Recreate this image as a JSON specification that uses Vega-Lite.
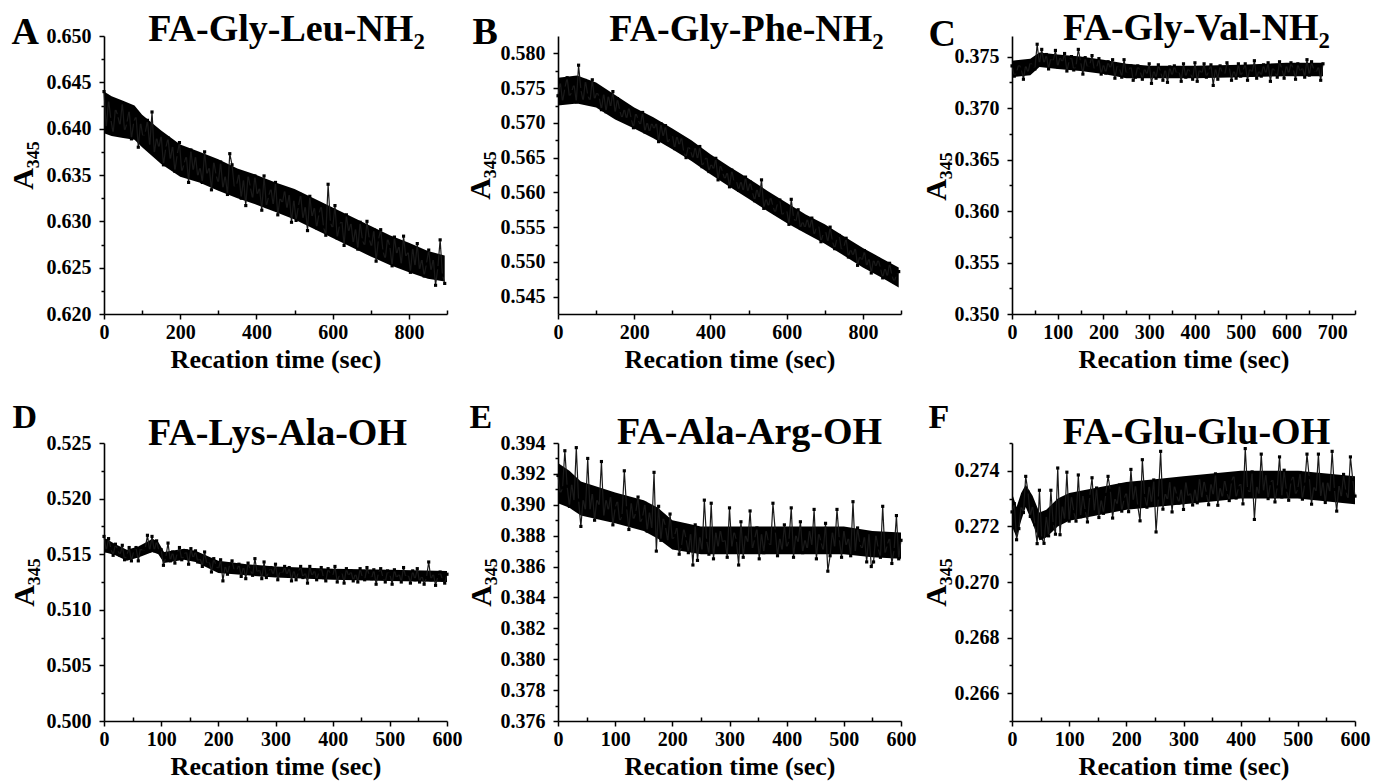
{
"$schema":"https://vega.github.io/schema/vega-lite/v6.json",
"background":"white",
"padding":{"left":8,"top":9,"right":5,"bottom":5},
"bounds":"flush",
"columns":3,
"spacing":{"row":129,"column":111},
"config":{
"font":"Liberation Serif",
"view":{"stroke":null},
"axis":{"grid":false,"domainColor":"black","domainWidth":1.6,"tickColor":"black","tickWidth":1.5,"tickSize":5,"labelFont":"Liberation Serif","labelFontSize":20,"labelFontWeight":"bold","labelColor":"black","labelPadding":3,"labelFlush":false,"labelOverlap":false,"titleFont":"Liberation Serif","titleFontWeight":"bold","titleColor":"black"},
"axisY":{"labelPadding":8},
"line":{"color":"#1a1a1a","strokeWidth":1.2,"strokeJoin":"round"},
"area":{"color":"#000000","opacity":1},
"point":{"filled":true,"color":"black","size":10,"shape":"square","opacity":1}
},
"datasets":{
"Ab":[{"t":0,"lo":0.6395,"hi":0.6440},{"t":20,"lo":0.6392,"hi":0.6435},{"t":50,"lo":0.6390,"hi":0.6430},{"t":80,"lo":0.6388,"hi":0.6425},{"t":100,"lo":0.6380,"hi":0.6415},{"t":150,"lo":0.6362,"hi":0.6398},{"t":200,"lo":0.6348,"hi":0.6383},{"t":250,"lo":0.6342,"hi":0.6375},{"t":300,"lo":0.6333,"hi":0.6367},{"t":350,"lo":0.6325,"hi":0.6357},{"t":400,"lo":0.6318,"hi":0.6350},{"t":450,"lo":0.6310,"hi":0.6342},{"t":500,"lo":0.6302,"hi":0.6335},{"t":550,"lo":0.6292,"hi":0.6325},{"t":600,"lo":0.6282,"hi":0.6315},{"t":650,"lo":0.6272,"hi":0.6305},{"t":700,"lo":0.6262,"hi":0.6295},{"t":750,"lo":0.6253,"hi":0.6285},{"t":800,"lo":0.6245,"hi":0.6277},{"t":850,"lo":0.6238,"hi":0.6268},{"t":894,"lo":0.6235,"hi":0.6263}],
"Bb":[{"t":0,"lo":0.5725,"hi":0.5765},{"t":50,"lo":0.5728,"hi":0.5768},{"t":100,"lo":0.5722,"hi":0.5758},{"t":150,"lo":0.5705,"hi":0.5740},{"t":200,"lo":0.5692,"hi":0.5722},{"t":250,"lo":0.5678,"hi":0.5708},{"t":300,"lo":0.5662,"hi":0.5692},{"t":350,"lo":0.5645,"hi":0.5675},{"t":400,"lo":0.5626,"hi":0.5655},{"t":450,"lo":0.5608,"hi":0.5637},{"t":500,"lo":0.5591,"hi":0.5620},{"t":550,"lo":0.5573,"hi":0.5602},{"t":600,"lo":0.5556,"hi":0.5585},{"t":650,"lo":0.5541,"hi":0.5568},{"t":700,"lo":0.5526,"hi":0.5554},{"t":750,"lo":0.5509,"hi":0.5537},{"t":800,"lo":0.5492,"hi":0.5520},{"t":850,"lo":0.5477,"hi":0.5505},{"t":894,"lo":0.5463,"hi":0.5492}],
"Cb":[{"t":0,"lo":0.3730,"hi":0.3746},{"t":40,"lo":0.3732,"hi":0.3748},{"t":60,"lo":0.3740,"hi":0.3754},{"t":100,"lo":0.3738,"hi":0.3752},{"t":150,"lo":0.3736,"hi":0.3750},{"t":200,"lo":0.3733,"hi":0.3747},{"t":250,"lo":0.3729,"hi":0.3743},{"t":300,"lo":0.3729,"hi":0.3741},{"t":400,"lo":0.3729,"hi":0.3741},{"t":500,"lo":0.3730,"hi":0.3742},{"t":600,"lo":0.3731,"hi":0.3744},{"t":680,"lo":0.3731,"hi":0.3744}],
"Db":[{"t":0,"lo":0.5152,"hi":0.5165},{"t":20,"lo":0.5149,"hi":0.5159},{"t":40,"lo":0.5144,"hi":0.5154},{"t":60,"lo":0.5147,"hi":0.5157},{"t":85,"lo":0.5152,"hi":0.5164},{"t":95,"lo":0.5150,"hi":0.5161},{"t":105,"lo":0.5142,"hi":0.5152},{"t":140,"lo":0.5145,"hi":0.5155},{"t":160,"lo":0.5143,"hi":0.5153},{"t":200,"lo":0.5133,"hi":0.5144},{"t":250,"lo":0.5131,"hi":0.5141},{"t":300,"lo":0.5129,"hi":0.5139},{"t":400,"lo":0.5127,"hi":0.5137},{"t":500,"lo":0.5126,"hi":0.5136},{"t":600,"lo":0.5125,"hi":0.5135}],
"Eb":[{"t":0,"lo":0.3901,"hi":0.3927},{"t":20,"lo":0.3898,"hi":0.3922},{"t":40,"lo":0.3893,"hi":0.3915},{"t":100,"lo":0.3888,"hi":0.3908},{"t":150,"lo":0.3883,"hi":0.3903},{"t":175,"lo":0.3878,"hi":0.3898},{"t":200,"lo":0.3871,"hi":0.3890},{"t":250,"lo":0.3868,"hi":0.3886},{"t":300,"lo":0.3868,"hi":0.3886},{"t":400,"lo":0.3868,"hi":0.3886},{"t":500,"lo":0.3868,"hi":0.3886},{"t":550,"lo":0.3866,"hi":0.3883},{"t":600,"lo":0.3865,"hi":0.3882}],
"Fb":[{"t":0,"lo":0.2720,"hi":0.2732},{"t":8,"lo":0.2716,"hi":0.2727},{"t":16,"lo":0.2722,"hi":0.2732},{"t":24,"lo":0.2727,"hi":0.2735},{"t":36,"lo":0.2721,"hi":0.2731},{"t":48,"lo":0.2715,"hi":0.2725},{"t":60,"lo":0.2716,"hi":0.2726},{"t":80,"lo":0.2720,"hi":0.2730},{"t":100,"lo":0.2722,"hi":0.2732},{"t":150,"lo":0.2724,"hi":0.2734},{"t":200,"lo":0.2726,"hi":0.2736},{"t":250,"lo":0.2727,"hi":0.2737},{"t":300,"lo":0.2728,"hi":0.2738},{"t":350,"lo":0.2729,"hi":0.2739},{"t":400,"lo":0.2730,"hi":0.2740},{"t":500,"lo":0.2730,"hi":0.2740},{"t":600,"lo":0.2728,"hi":0.2738}],
"A":[{"t":0,"v":0.6440},{"t":6,"v":0.6401},{"t":12,"v":0.6431},{"t":18,"v":0.6410},{"t":24,"v":0.6395},{"t":30,"v":0.6422},{"t":36,"v":0.6414},{"t":42,"v":0.6403},{"t":48,"v":0.6428},{"t":54,"v":0.6397},{"t":60,"v":0.6406},{"t":66,"v":0.6420},{"t":72,"v":0.6389},{"t":78,"v":0.6407},{"t":84,"v":0.6414},{"t":90,"v":0.6380},{"t":96,"v":0.6407},{"t":102,"v":0.6391},{"t":108,"v":0.6395},{"t":114,"v":0.6409},{"t":120,"v":0.6381},{"t":126,"v":0.6418},{"t":132,"v":0.6373},{"t":138,"v":0.6391},{"t":144,"v":0.6379},{"t":150,"v":0.6393},{"t":156,"v":0.6361},{"t":162,"v":0.6379},{"t":168,"v":0.6390},{"t":174,"v":0.6366},{"t":180,"v":0.6382},{"t":186,"v":0.6354},{"t":192,"v":0.6372},{"t":198,"v":0.6385},{"t":204,"v":0.6353},{"t":210,"v":0.6362},{"t":216,"v":0.6371},{"t":222,"v":0.6342},{"t":228,"v":0.6377},{"t":234,"v":0.6354},{"t":240,"v":0.6371},{"t":246,"v":0.6348},{"t":252,"v":0.6359},{"t":258,"v":0.6342},{"t":264,"v":0.6375},{"t":270,"v":0.6350},{"t":276,"v":0.6359},{"t":282,"v":0.6334},{"t":288,"v":0.6365},{"t":294,"v":0.6350},{"t":300,"v":0.6341},{"t":306,"v":0.6364},{"t":312,"v":0.6335},{"t":318,"v":0.6350},{"t":324,"v":0.6329},{"t":330,"v":0.6373},{"t":336,"v":0.6361},{"t":342,"v":0.6336},{"t":348,"v":0.6339},{"t":354,"v":0.6352},{"t":360,"v":0.6325},{"t":366,"v":0.6346},{"t":372,"v":0.6317},{"t":378,"v":0.6350},{"t":384,"v":0.6337},{"t":390,"v":0.6324},{"t":396,"v":0.6349},{"t":402,"v":0.6328},{"t":408,"v":0.6337},{"t":414,"v":0.6312},{"t":420,"v":0.6349},{"t":426,"v":0.6316},{"t":432,"v":0.6327},{"t":438,"v":0.6336},{"t":444,"v":0.6317},{"t":450,"v":0.6342},{"t":456,"v":0.6307},{"t":462,"v":0.6326},{"t":468,"v":0.6319},{"t":474,"v":0.6334},{"t":480,"v":0.6313},{"t":486,"v":0.6330},{"t":492,"v":0.6299},{"t":498,"v":0.6324},{"t":504,"v":0.6301},{"t":510,"v":0.6316},{"t":516,"v":0.6329},{"t":522,"v":0.6302},{"t":528,"v":0.6317},{"t":534,"v":0.6290},{"t":540,"v":0.6327},{"t":546,"v":0.6304},{"t":552,"v":0.6316},{"t":558,"v":0.6293},{"t":564,"v":0.6308},{"t":570,"v":0.6317},{"t":576,"v":0.6294},{"t":582,"v":0.6285},{"t":588,"v":0.6340},{"t":594,"v":0.6299},{"t":600,"v":0.6292},{"t":606,"v":0.6317},{"t":612,"v":0.6282},{"t":618,"v":0.6296},{"t":624,"v":0.6301},{"t":630,"v":0.6274},{"t":636,"v":0.6307},{"t":642,"v":0.6288},{"t":648,"v":0.6299},{"t":654,"v":0.6276},{"t":660,"v":0.6293},{"t":666,"v":0.6270},{"t":672,"v":0.6299},{"t":678,"v":0.6280},{"t":684,"v":0.6273},{"t":690,"v":0.6300},{"t":696,"v":0.6281},{"t":702,"v":0.6272},{"t":708,"v":0.6291},{"t":714,"v":0.6257},{"t":720,"v":0.6280},{"t":726,"v":0.6291},{"t":732,"v":0.6268},{"t":738,"v":0.6259},{"t":744,"v":0.6282},{"t":750,"v":0.6273},{"t":756,"v":0.6252},{"t":762,"v":0.6283},{"t":768,"v":0.6264},{"t":774,"v":0.6274},{"t":780,"v":0.6253},{"t":786,"v":0.6284},{"t":792,"v":0.6261},{"t":798,"v":0.6268},{"t":804,"v":0.6245},{"t":810,"v":0.6272},{"t":816,"v":0.6251},{"t":822,"v":0.6276},{"t":828,"v":0.6247},{"t":834,"v":0.6260},{"t":840,"v":0.6241},{"t":846,"v":0.6254},{"t":852,"v":0.6269},{"t":858,"v":0.6246},{"t":864,"v":0.6260},{"t":870,"v":0.6231},{"t":876,"v":0.6250},{"t":882,"v":0.6280},{"t":888,"v":0.6242},{"t":894,"v":0.6233}],
"B":[{"t":0,"v":0.5739},{"t":6,"v":0.5759},{"t":12,"v":0.5730},{"t":18,"v":0.5750},{"t":24,"v":0.5765},{"t":30,"v":0.5737},{"t":36,"v":0.5745},{"t":42,"v":0.5756},{"t":48,"v":0.5730},{"t":54,"v":0.5783},{"t":60,"v":0.5748},{"t":66,"v":0.5731},{"t":72,"v":0.5761},{"t":78,"v":0.5740},{"t":84,"v":0.5731},{"t":90,"v":0.5762},{"t":96,"v":0.5733},{"t":102,"v":0.5745},{"t":108,"v":0.5737},{"t":114,"v":0.5719},{"t":120,"v":0.5743},{"t":126,"v":0.5716},{"t":132,"v":0.5740},{"t":138,"v":0.5722},{"t":144,"v":0.5745},{"t":150,"v":0.5714},{"t":156,"v":0.5735},{"t":162,"v":0.5718},{"t":168,"v":0.5706},{"t":174,"v":0.5721},{"t":180,"v":0.5705},{"t":186,"v":0.5723},{"t":192,"v":0.5706},{"t":198,"v":0.5693},{"t":204,"v":0.5715},{"t":210,"v":0.5705},{"t":216,"v":0.5696},{"t":222,"v":0.5715},{"t":228,"v":0.5687},{"t":234,"v":0.5702},{"t":240,"v":0.5686},{"t":246,"v":0.5701},{"t":252,"v":0.5690},{"t":258,"v":0.5701},{"t":264,"v":0.5673},{"t":270,"v":0.5699},{"t":276,"v":0.5679},{"t":282,"v":0.5696},{"t":288,"v":0.5670},{"t":294,"v":0.5679},{"t":300,"v":0.5683},{"t":306,"v":0.5663},{"t":312,"v":0.5682},{"t":318,"v":0.5667},{"t":324,"v":0.5680},{"t":330,"v":0.5658},{"t":336,"v":0.5650},{"t":342,"v":0.5667},{"t":348,"v":0.5660},{"t":354,"v":0.5648},{"t":360,"v":0.5666},{"t":366,"v":0.5647},{"t":372,"v":0.5666},{"t":378,"v":0.5637},{"t":384,"v":0.5645},{"t":390,"v":0.5652},{"t":396,"v":0.5630},{"t":402,"v":0.5642},{"t":408,"v":0.5632},{"t":414,"v":0.5649},{"t":420,"v":0.5618},{"t":426,"v":0.5640},{"t":432,"v":0.5629},{"t":438,"v":0.5618},{"t":444,"v":0.5630},{"t":450,"v":0.5608},{"t":456,"v":0.5632},{"t":462,"v":0.5615},{"t":468,"v":0.5617},{"t":474,"v":0.5603},{"t":480,"v":0.5617},{"t":486,"v":0.5601},{"t":492,"v":0.5622},{"t":498,"v":0.5600},{"t":504,"v":0.5615},{"t":510,"v":0.5601},{"t":516,"v":0.5588},{"t":522,"v":0.5606},{"t":528,"v":0.5591},{"t":534,"v":0.5618},{"t":540,"v":0.5577},{"t":546,"v":0.5592},{"t":552,"v":0.5579},{"t":558,"v":0.5594},{"t":564,"v":0.5580},{"t":570,"v":0.5570},{"t":576,"v":0.5585},{"t":582,"v":0.5589},{"t":588,"v":0.5566},{"t":594,"v":0.5573},{"t":600,"v":0.5575},{"t":606,"v":0.5554},{"t":612,"v":0.5590},{"t":618,"v":0.5564},{"t":624,"v":0.5557},{"t":630,"v":0.5575},{"t":636,"v":0.5548},{"t":642,"v":0.5559},{"t":648,"v":0.5548},{"t":654,"v":0.5563},{"t":660,"v":0.5547},{"t":666,"v":0.5563},{"t":672,"v":0.5538},{"t":678,"v":0.5550},{"t":684,"v":0.5553},{"t":690,"v":0.5529},{"t":696,"v":0.5541},{"t":702,"v":0.5545},{"t":708,"v":0.5528},{"t":714,"v":0.5550},{"t":720,"v":0.5530},{"t":726,"v":0.5519},{"t":732,"v":0.5534},{"t":738,"v":0.5538},{"t":744,"v":0.5516},{"t":750,"v":0.5521},{"t":756,"v":0.5534},{"t":762,"v":0.5507},{"t":768,"v":0.5519},{"t":774,"v":0.5508},{"t":780,"v":0.5521},{"t":786,"v":0.5495},{"t":792,"v":0.5509},{"t":798,"v":0.5501},{"t":804,"v":0.5516},{"t":810,"v":0.5493},{"t":816,"v":0.5506},{"t":822,"v":0.5484},{"t":828,"v":0.5504},{"t":834,"v":0.5492},{"t":840,"v":0.5504},{"t":846,"v":0.5491},{"t":852,"v":0.5477},{"t":858,"v":0.5492},{"t":864,"v":0.5478},{"t":870,"v":0.5498},{"t":876,"v":0.5481},{"t":882,"v":0.5471},{"t":888,"v":0.5481},{"t":894,"v":0.5486}],
"C":[{"t":0,"v":0.3741},{"t":5,"v":0.3731},{"t":10,"v":0.3735},{"t":15,"v":0.3743},{"t":20,"v":0.3738},{"t":25,"v":0.3728},{"t":30,"v":0.3742},{"t":35,"v":0.3734},{"t":40,"v":0.3745},{"t":45,"v":0.3741},{"t":50,"v":0.3738},{"t":55,"v":0.3762},{"t":60,"v":0.3743},{"t":65,"v":0.3757},{"t":70,"v":0.3743},{"t":75,"v":0.3752},{"t":80,"v":0.3738},{"t":85,"v":0.3749},{"t":90,"v":0.3745},{"t":95,"v":0.3756},{"t":100,"v":0.3740},{"t":105,"v":0.3750},{"t":110,"v":0.3744},{"t":115,"v":0.3753},{"t":120,"v":0.3736},{"t":125,"v":0.3746},{"t":130,"v":0.3750},{"t":135,"v":0.3737},{"t":140,"v":0.3741},{"t":145,"v":0.3757},{"t":150,"v":0.3745},{"t":155,"v":0.3733},{"t":160,"v":0.3749},{"t":165,"v":0.3739},{"t":170,"v":0.3742},{"t":175,"v":0.3751},{"t":180,"v":0.3737},{"t":185,"v":0.3739},{"t":190,"v":0.3748},{"t":195,"v":0.3733},{"t":200,"v":0.3743},{"t":205,"v":0.3734},{"t":210,"v":0.3745},{"t":215,"v":0.3738},{"t":220,"v":0.3747},{"t":225,"v":0.3729},{"t":230,"v":0.3742},{"t":235,"v":0.3739},{"t":240,"v":0.3730},{"t":245,"v":0.3747},{"t":250,"v":0.3733},{"t":255,"v":0.3736},{"t":260,"v":0.3741},{"t":265,"v":0.3727},{"t":270,"v":0.3730},{"t":275,"v":0.3741},{"t":280,"v":0.3736},{"t":285,"v":0.3728},{"t":290,"v":0.3739},{"t":295,"v":0.3732},{"t":300,"v":0.3743},{"t":305,"v":0.3724},{"t":310,"v":0.3737},{"t":315,"v":0.3729},{"t":320,"v":0.3742},{"t":325,"v":0.3735},{"t":330,"v":0.3727},{"t":335,"v":0.3738},{"t":340,"v":0.3725},{"t":345,"v":0.3740},{"t":350,"v":0.3731},{"t":355,"v":0.3741},{"t":360,"v":0.3733},{"t":365,"v":0.3736},{"t":370,"v":0.3726},{"t":375,"v":0.3743},{"t":380,"v":0.3730},{"t":385,"v":0.3739},{"t":390,"v":0.3734},{"t":395,"v":0.3728},{"t":400,"v":0.3744},{"t":405,"v":0.3726},{"t":410,"v":0.3738},{"t":415,"v":0.3733},{"t":420,"v":0.3743},{"t":425,"v":0.3730},{"t":430,"v":0.3736},{"t":435,"v":0.3742},{"t":440,"v":0.3722},{"t":445,"v":0.3739},{"t":450,"v":0.3728},{"t":455,"v":0.3741},{"t":460,"v":0.3734},{"t":465,"v":0.3732},{"t":470,"v":0.3744},{"t":475,"v":0.3740},{"t":480,"v":0.3727},{"t":485,"v":0.3737},{"t":490,"v":0.3729},{"t":495,"v":0.3743},{"t":500,"v":0.3731},{"t":505,"v":0.3736},{"t":510,"v":0.3743},{"t":515,"v":0.3727},{"t":520,"v":0.3739},{"t":525,"v":0.3734},{"t":530,"v":0.3746},{"t":535,"v":0.3729},{"t":540,"v":0.3737},{"t":545,"v":0.3731},{"t":550,"v":0.3742},{"t":555,"v":0.3733},{"t":560,"v":0.3744},{"t":565,"v":0.3726},{"t":570,"v":0.3740},{"t":575,"v":0.3735},{"t":580,"v":0.3730},{"t":585,"v":0.3745},{"t":590,"v":0.3738},{"t":595,"v":0.3729},{"t":600,"v":0.3742},{"t":605,"v":0.3733},{"t":610,"v":0.3744},{"t":615,"v":0.3738},{"t":620,"v":0.3728},{"t":625,"v":0.3743},{"t":630,"v":0.3735},{"t":635,"v":0.3740},{"t":640,"v":0.3730},{"t":645,"v":0.3747},{"t":650,"v":0.3732},{"t":655,"v":0.3745},{"t":660,"v":0.3737},{"t":665,"v":0.3734},{"t":670,"v":0.3741},{"t":675,"v":0.3727},{"t":680,"v":0.3743}],
"D":[{"t":0,"v":0.5166},{"t":4,"v":0.5153},{"t":8,"v":0.5164},{"t":12,"v":0.5155},{"t":16,"v":0.5149},{"t":20,"v":0.5159},{"t":24,"v":0.5154},{"t":28,"v":0.5149},{"t":32,"v":0.5158},{"t":36,"v":0.5145},{"t":40,"v":0.5149},{"t":44,"v":0.5156},{"t":48,"v":0.5144},{"t":52,"v":0.5153},{"t":56,"v":0.5156},{"t":60,"v":0.5144},{"t":64,"v":0.5156},{"t":68,"v":0.5152},{"t":72,"v":0.5155},{"t":76,"v":0.5167},{"t":80,"v":0.5153},{"t":84,"v":0.5166},{"t":88,"v":0.5153},{"t":92,"v":0.5162},{"t":96,"v":0.5153},{"t":100,"v":0.5154},{"t":104,"v":0.5140},{"t":108,"v":0.5147},{"t":112,"v":0.5160},{"t":116,"v":0.5144},{"t":120,"v":0.5152},{"t":124,"v":0.5142},{"t":128,"v":0.5151},{"t":132,"v":0.5156},{"t":136,"v":0.5145},{"t":140,"v":0.5149},{"t":144,"v":0.5153},{"t":148,"v":0.5141},{"t":152,"v":0.5155},{"t":156,"v":0.5146},{"t":160,"v":0.5153},{"t":164,"v":0.5143},{"t":168,"v":0.5147},{"t":172,"v":0.5139},{"t":176,"v":0.5152},{"t":180,"v":0.5141},{"t":184,"v":0.5144},{"t":188,"v":0.5134},{"t":192,"v":0.5146},{"t":196,"v":0.5140},{"t":200,"v":0.5136},{"t":204,"v":0.5145},{"t":208,"v":0.5126},{"t":212,"v":0.5140},{"t":216,"v":0.5132},{"t":220,"v":0.5141},{"t":224,"v":0.5144},{"t":228,"v":0.5135},{"t":232,"v":0.5135},{"t":236,"v":0.5141},{"t":240,"v":0.5130},{"t":244,"v":0.5139},{"t":248,"v":0.5128},{"t":252,"v":0.5142},{"t":256,"v":0.5136},{"t":260,"v":0.5131},{"t":264,"v":0.5146},{"t":268,"v":0.5133},{"t":272,"v":0.5137},{"t":276,"v":0.5128},{"t":280,"v":0.5143},{"t":284,"v":0.5129},{"t":288,"v":0.5134},{"t":292,"v":0.5138},{"t":296,"v":0.5131},{"t":300,"v":0.5141},{"t":304,"v":0.5127},{"t":308,"v":0.5135},{"t":312,"v":0.5132},{"t":316,"v":0.5139},{"t":320,"v":0.5131},{"t":324,"v":0.5138},{"t":328,"v":0.5126},{"t":332,"v":0.5136},{"t":336,"v":0.5127},{"t":340,"v":0.5134},{"t":344,"v":0.5139},{"t":348,"v":0.5129},{"t":352,"v":0.5134},{"t":356,"v":0.5124},{"t":360,"v":0.5139},{"t":364,"v":0.5130},{"t":368,"v":0.5136},{"t":372,"v":0.5127},{"t":376,"v":0.5134},{"t":380,"v":0.5138},{"t":384,"v":0.5129},{"t":388,"v":0.5126},{"t":392,"v":0.5137},{"t":396,"v":0.5132},{"t":400,"v":0.5130},{"t":404,"v":0.5139},{"t":408,"v":0.5125},{"t":412,"v":0.5132},{"t":416,"v":0.5134},{"t":420,"v":0.5124},{"t":424,"v":0.5137},{"t":428,"v":0.5130},{"t":432,"v":0.5135},{"t":436,"v":0.5126},{"t":440,"v":0.5133},{"t":444,"v":0.5125},{"t":448,"v":0.5137},{"t":452,"v":0.5129},{"t":456,"v":0.5127},{"t":460,"v":0.5138},{"t":464,"v":0.5131},{"t":468,"v":0.5128},{"t":472,"v":0.5136},{"t":476,"v":0.5123},{"t":480,"v":0.5133},{"t":484,"v":0.5137},{"t":488,"v":0.5129},{"t":492,"v":0.5125},{"t":496,"v":0.5135},{"t":500,"v":0.5132},{"t":504,"v":0.5123},{"t":508,"v":0.5136},{"t":512,"v":0.5128},{"t":516,"v":0.5133},{"t":520,"v":0.5125},{"t":524,"v":0.5138},{"t":528,"v":0.5129},{"t":532,"v":0.5132},{"t":536,"v":0.5124},{"t":540,"v":0.5135},{"t":544,"v":0.5127},{"t":548,"v":0.5137},{"t":552,"v":0.5125},{"t":556,"v":0.5131},{"t":560,"v":0.5123},{"t":564,"v":0.5129},{"t":568,"v":0.5143},{"t":572,"v":0.5127},{"t":576,"v":0.5133},{"t":580,"v":0.5122},{"t":584,"v":0.5130},{"t":588,"v":0.5134},{"t":592,"v":0.5127},{"t":596,"v":0.5124},{"t":600,"v":0.5132}],
"E":[{"t":0,"v":0.3919},{"t":4,"v":0.3907},{"t":8,"v":0.3911},{"t":12,"v":0.3935},{"t":16,"v":0.3912},{"t":20,"v":0.3899},{"t":24,"v":0.3914},{"t":28,"v":0.3902},{"t":32,"v":0.3937},{"t":36,"v":0.3903},{"t":40,"v":0.3886},{"t":44,"v":0.3904},{"t":48,"v":0.3896},{"t":52,"v":0.3930},{"t":56,"v":0.3896},{"t":60,"v":0.3908},{"t":64,"v":0.3890},{"t":68,"v":0.3904},{"t":72,"v":0.3899},{"t":76,"v":0.3928},{"t":80,"v":0.3892},{"t":84,"v":0.3904},{"t":88,"v":0.3896},{"t":92,"v":0.3906},{"t":96,"v":0.3887},{"t":100,"v":0.3898},{"t":104,"v":0.3903},{"t":108,"v":0.3889},{"t":112,"v":0.3893},{"t":116,"v":0.3922},{"t":120,"v":0.3898},{"t":124,"v":0.3884},{"t":128,"v":0.3902},{"t":132,"v":0.3890},{"t":136,"v":0.3895},{"t":140,"v":0.3905},{"t":144,"v":0.3888},{"t":148,"v":0.3892},{"t":152,"v":0.3901},{"t":156,"v":0.3883},{"t":160,"v":0.3896},{"t":164,"v":0.3884},{"t":168,"v":0.3921},{"t":172,"v":0.3870},{"t":176,"v":0.3899},{"t":180,"v":0.3877},{"t":184,"v":0.3892},{"t":188,"v":0.3886},{"t":192,"v":0.3876},{"t":196,"v":0.3894},{"t":200,"v":0.3877},{"t":204,"v":0.3880},{"t":208,"v":0.3886},{"t":212,"v":0.3868},{"t":216,"v":0.3873},{"t":220,"v":0.3885},{"t":224,"v":0.3878},{"t":228,"v":0.3869},{"t":232,"v":0.3882},{"t":236,"v":0.3861},{"t":240,"v":0.3887},{"t":244,"v":0.3864},{"t":248,"v":0.3880},{"t":252,"v":0.3870},{"t":256,"v":0.3903},{"t":260,"v":0.3877},{"t":264,"v":0.3868},{"t":268,"v":0.3901},{"t":272,"v":0.3865},{"t":276,"v":0.3883},{"t":280,"v":0.3872},{"t":284,"v":0.3884},{"t":288,"v":0.3875},{"t":292,"v":0.3878},{"t":296,"v":0.3866},{"t":300,"v":0.3898},{"t":304,"v":0.3872},{"t":308,"v":0.3883},{"t":312,"v":0.3877},{"t":316,"v":0.3861},{"t":320,"v":0.3889},{"t":324,"v":0.3866},{"t":328,"v":0.3881},{"t":332,"v":0.3875},{"t":336,"v":0.3896},{"t":340,"v":0.3871},{"t":344,"v":0.3878},{"t":348,"v":0.3885},{"t":352,"v":0.3865},{"t":356,"v":0.3882},{"t":360,"v":0.3869},{"t":364,"v":0.3884},{"t":368,"v":0.3876},{"t":372,"v":0.3873},{"t":376,"v":0.3901},{"t":380,"v":0.3883},{"t":384,"v":0.3867},{"t":388,"v":0.3879},{"t":392,"v":0.3870},{"t":396,"v":0.3887},{"t":400,"v":0.3872},{"t":404,"v":0.3877},{"t":408,"v":0.3898},{"t":412,"v":0.3866},{"t":416,"v":0.3881},{"t":420,"v":0.3875},{"t":424,"v":0.3889},{"t":428,"v":0.3869},{"t":432,"v":0.3878},{"t":436,"v":0.3871},{"t":440,"v":0.3884},{"t":444,"v":0.3873},{"t":448,"v":0.3897},{"t":452,"v":0.3865},{"t":456,"v":0.3882},{"t":460,"v":0.3876},{"t":464,"v":0.3870},{"t":468,"v":0.3888},{"t":472,"v":0.3857},{"t":476,"v":0.3867},{"t":480,"v":0.3883},{"t":484,"v":0.3872},{"t":488,"v":0.3897},{"t":492,"v":0.3878},{"t":496,"v":0.3866},{"t":500,"v":0.3884},{"t":504,"v":0.3873},{"t":508,"v":0.3879},{"t":512,"v":0.3867},{"t":516,"v":0.3902},{"t":520,"v":0.3869},{"t":524,"v":0.3885},{"t":528,"v":0.3875},{"t":532,"v":0.3871},{"t":536,"v":0.3880},{"t":540,"v":0.3863},{"t":544,"v":0.3882},{"t":548,"v":0.3860},{"t":552,"v":0.3863},{"t":556,"v":0.3881},{"t":560,"v":0.3872},{"t":564,"v":0.3866},{"t":568,"v":0.3899},{"t":572,"v":0.3868},{"t":576,"v":0.3874},{"t":580,"v":0.3879},{"t":584,"v":0.3862},{"t":588,"v":0.3871},{"t":592,"v":0.3893},{"t":596,"v":0.3865},{"t":600,"v":0.3877}],
"F":[{"t":0,"v":0.27252},{"t":4,"v":0.27282},{"t":8,"v":0.27152},{"t":12,"v":0.27192},{"t":16,"v":0.27274},{"t":20,"v":0.27250},{"t":24,"v":0.27380},{"t":28,"v":0.27324},{"t":32,"v":0.27236},{"t":36,"v":0.27276},{"t":40,"v":0.27206},{"t":44,"v":0.27138},{"t":48,"v":0.27330},{"t":52,"v":0.27158},{"t":56,"v":0.27139},{"t":60,"v":0.27240},{"t":64,"v":0.27166},{"t":68,"v":0.27330},{"t":72,"v":0.27210},{"t":76,"v":0.27172},{"t":80,"v":0.27410},{"t":84,"v":0.27170},{"t":88,"v":0.27277},{"t":92,"v":0.27222},{"t":96,"v":0.27395},{"t":100,"v":0.27219},{"t":104,"v":0.27311},{"t":108,"v":0.27253},{"t":112,"v":0.27219},{"t":116,"v":0.27385},{"t":120,"v":0.27235},{"t":124,"v":0.27315},{"t":128,"v":0.27257},{"t":132,"v":0.27216},{"t":136,"v":0.27308},{"t":140,"v":0.27375},{"t":144,"v":0.27252},{"t":148,"v":0.27338},{"t":152,"v":0.27232},{"t":156,"v":0.27299},{"t":160,"v":0.27247},{"t":164,"v":0.27315},{"t":168,"v":0.27380},{"t":172,"v":0.27330},{"t":176,"v":0.27230},{"t":180,"v":0.27304},{"t":184,"v":0.27276},{"t":188,"v":0.27349},{"t":192,"v":0.27255},{"t":196,"v":0.27298},{"t":200,"v":0.27324},{"t":204,"v":0.27253},{"t":208,"v":0.27405},{"t":212,"v":0.27290},{"t":216,"v":0.27350},{"t":220,"v":0.27273},{"t":224,"v":0.27220},{"t":228,"v":0.27440},{"t":232,"v":0.27311},{"t":236,"v":0.27269},{"t":240,"v":0.27348},{"t":244,"v":0.27283},{"t":248,"v":0.27367},{"t":252,"v":0.27180},{"t":256,"v":0.27302},{"t":260,"v":0.27470},{"t":264,"v":0.27262},{"t":268,"v":0.27322},{"t":272,"v":0.27293},{"t":276,"v":0.27365},{"t":280,"v":0.27252},{"t":284,"v":0.27349},{"t":288,"v":0.27313},{"t":292,"v":0.27284},{"t":296,"v":0.27338},{"t":300,"v":0.27261},{"t":304,"v":0.27364},{"t":308,"v":0.27305},{"t":312,"v":0.27324},{"t":316,"v":0.27277},{"t":320,"v":0.27338},{"t":324,"v":0.27285},{"t":328,"v":0.27376},{"t":332,"v":0.27299},{"t":336,"v":0.27366},{"t":340,"v":0.27319},{"t":344,"v":0.27278},{"t":348,"v":0.27357},{"t":352,"v":0.27310},{"t":356,"v":0.27389},{"t":360,"v":0.27276},{"t":364,"v":0.27343},{"t":368,"v":0.27302},{"t":372,"v":0.27369},{"t":376,"v":0.27322},{"t":380,"v":0.27293},{"t":384,"v":0.27360},{"t":388,"v":0.27385},{"t":392,"v":0.27302},{"t":396,"v":0.27339},{"t":400,"v":0.27358},{"t":404,"v":0.27281},{"t":408,"v":0.27480},{"t":412,"v":0.27336},{"t":416,"v":0.27318},{"t":420,"v":0.27396},{"t":424,"v":0.27225},{"t":428,"v":0.27348},{"t":432,"v":0.27312},{"t":436,"v":0.27460},{"t":440,"v":0.27324},{"t":444,"v":0.27390},{"t":448,"v":0.27300},{"t":452,"v":0.27354},{"t":456,"v":0.27372},{"t":460,"v":0.27288},{"t":464,"v":0.27342},{"t":468,"v":0.27450},{"t":472,"v":0.27306},{"t":476,"v":0.27402},{"t":480,"v":0.27330},{"t":484,"v":0.27294},{"t":488,"v":0.27360},{"t":492,"v":0.27384},{"t":496,"v":0.27312},{"t":500,"v":0.27336},{"t":504,"v":0.27394},{"t":508,"v":0.27298},{"t":512,"v":0.27352},{"t":516,"v":0.27460},{"t":520,"v":0.27376},{"t":524,"v":0.27280},{"t":528,"v":0.27346},{"t":532,"v":0.27322},{"t":536,"v":0.27460},{"t":540,"v":0.27304},{"t":544,"v":0.27364},{"t":548,"v":0.27286},{"t":552,"v":0.27363},{"t":556,"v":0.27321},{"t":560,"v":0.27470},{"t":564,"v":0.27333},{"t":568,"v":0.27255},{"t":572,"v":0.27351},{"t":576,"v":0.27303},{"t":580,"v":0.27387},{"t":584,"v":0.27327},{"t":588,"v":0.27297},{"t":592,"v":0.27450},{"t":596,"v":0.27369},{"t":600,"v":0.27309}]
},
"concat":[
{"width":343,"height":278,"resolve":{"axis":{"x":"independent","y":"independent"}},"layer":[
{"data":{"name":"Ab"},"mark":{"type":"area"},"encoding":{
"x":{"field":"t","type":"quantitative","scale":{"domain":[0,900],"nice":false,"zero":false},"axis":null},
"y":{"field":"lo","type":"quantitative","scale":{"domain":[0.62,0.65],"nice":false,"zero":false},"axis":null},
"y2":{"field":"hi"}}},
{"data":{"name":"A"},"mark":{"type":"line"},"encoding":{
"x":{"field":"t","type":"quantitative","scale":{"domain":[0,900],"nice":false,"zero":false},"axis":{"orient":"bottom","values":[0,200,400,600,800],"title":"Recation time (sec)","titleFontSize":26,"titleY":53,"titleBaseline":"alphabetic"}},
"y":{"field":"v","type":"quantitative","scale":{"domain":[0.62,0.65],"nice":false,"zero":false},"axis":{"orient":"left","values":[0.62,0.625,0.63,0.635,0.64,0.645,0.65],"format":".3f","title":"A₃₄₅","titleFontSize":30,"titleX":-72,"titleY":129,"titleAlign":"center","titleBaseline":"alphabetic"}}}},
{"data":{"name":"A"},"mark":{"type":"point"},"encoding":{
"x":{"field":"t","type":"quantitative","scale":{"domain":[0,900],"nice":false,"zero":false},"axis":{"orient":"bottom","values":[100,300,500,700,900],"labels":false,"domain":false,"tickSize":-4,"title":"FA-Gly-Leu-NH₂","titleFontSize":38,"titleX":182,"titleY":-274,"titleAlign":"center","titleBaseline":"alphabetic"}},
"y":{"field":"v","type":"quantitative","scale":{"domain":[0.62,0.65],"nice":false,"zero":false},"axis":{"orient":"left","values":[0.6225,0.6275,0.6325,0.6375,0.6425,0.6475],"labels":false,"domain":false,"tickSize":3,"title":"A","titleFontSize":38,"titleAngle":0,"titleX":-93,"titleY":7,"titleAlign":"left","titleBaseline":"alphabetic"}}}}
]},
{"width":343,"height":278,"resolve":{"axis":{"x":"independent","y":"independent"}},"layer":[
{"data":{"name":"Bb"},"mark":{"type":"area"},"encoding":{
"x":{"field":"t","type":"quantitative","scale":{"domain":[0,900],"nice":false,"zero":false},"axis":null},
"y":{"field":"lo","type":"quantitative","scale":{"domain":[0.5425,0.5825],"nice":false,"zero":false},"axis":null},
"y2":{"field":"hi"}}},
{"data":{"name":"B"},"mark":{"type":"line"},"encoding":{
"x":{"field":"t","type":"quantitative","scale":{"domain":[0,900],"nice":false,"zero":false},"axis":{"orient":"bottom","values":[0,200,400,600,800],"title":"Recation time (sec)","titleFontSize":26,"titleY":53,"titleBaseline":"alphabetic"}},
"y":{"field":"v","type":"quantitative","scale":{"domain":[0.5425,0.5825],"nice":false,"zero":false},"axis":{"orient":"left","values":[0.545,0.55,0.555,0.56,0.565,0.57,0.575,0.58],"format":".3f","title":"A₃₄₅","titleFontSize":30,"titleX":-69,"titleY":139,"titleAlign":"center","titleBaseline":"alphabetic"}}}},
{"data":{"name":"B"},"mark":{"type":"point"},"encoding":{
"x":{"field":"t","type":"quantitative","scale":{"domain":[0,900],"nice":false,"zero":false},"axis":{"orient":"bottom","values":[100,300,500,700,900],"labels":false,"domain":false,"tickSize":-4,"title":"FA-Gly-Phe-NH₂","titleFontSize":38,"titleX":188,"titleY":-274,"titleAlign":"center","titleBaseline":"alphabetic"}},
"y":{"field":"v","type":"quantitative","scale":{"domain":[0.5425,0.5825],"nice":false,"zero":false},"axis":{"orient":"left","values":[0.5475,0.5525,0.5575,0.5625,0.5675,0.5725,0.5775],"labels":false,"domain":false,"tickSize":3,"title":"B","titleFontSize":38,"titleAngle":0,"titleX":-86,"titleY":7,"titleAlign":"left","titleBaseline":"alphabetic"}}}}
]},
{"width":343,"height":278,"resolve":{"axis":{"x":"independent","y":"independent"}},"layer":[
{"data":{"name":"Cb"},"mark":{"type":"area"},"encoding":{
"x":{"field":"t","type":"quantitative","scale":{"domain":[0,750],"nice":false,"zero":false},"axis":null},
"y":{"field":"lo","type":"quantitative","scale":{"domain":[0.35,0.377],"nice":false,"zero":false},"axis":null},
"y2":{"field":"hi"}}},
{"data":{"name":"C"},"mark":{"type":"line"},"encoding":{
"x":{"field":"t","type":"quantitative","scale":{"domain":[0,750],"nice":false,"zero":false},"axis":{"orient":"bottom","values":[0,100,200,300,400,500,600,700],"title":"Recation time (sec)","titleFontSize":26,"titleY":53,"titleBaseline":"alphabetic"}},
"y":{"field":"v","type":"quantitative","scale":{"domain":[0.35,0.377],"nice":false,"zero":false},"axis":{"orient":"left","values":[0.35,0.355,0.36,0.365,0.37,0.375],"format":".3f","title":"A₃₄₅","titleFontSize":30,"titleX":-67,"titleY":140,"titleAlign":"center","titleBaseline":"alphabetic"}}}},
{"data":{"name":"C"},"mark":{"type":"point"},"encoding":{
"x":{"field":"t","type":"quantitative","scale":{"domain":[0,750],"nice":false,"zero":false},"axis":{"orient":"bottom","values":[50,150,250,350,450,550,650,750],"labels":false,"domain":false,"tickSize":-4,"title":"FA-Gly-Val-NH₂","titleFontSize":38,"titleX":184,"titleY":-275,"titleAlign":"center","titleBaseline":"alphabetic"}},
"y":{"field":"v","type":"quantitative","scale":{"domain":[0.35,0.377],"nice":false,"zero":false},"axis":{"orient":"left","values":[0.3525,0.3575,0.3625,0.3675,0.3725],"labels":false,"domain":false,"tickSize":3,"title":"C","titleFontSize":38,"titleAngle":0,"titleX":-84,"titleY":9,"titleAlign":"left","titleBaseline":"alphabetic"}}}}
]},
{"width":343,"height":278,"resolve":{"axis":{"x":"independent","y":"independent"}},"layer":[
{"data":{"name":"Db"},"mark":{"type":"area"},"encoding":{
"x":{"field":"t","type":"quantitative","scale":{"domain":[0,600],"nice":false,"zero":false},"axis":null},
"y":{"field":"lo","type":"quantitative","scale":{"domain":[0.5,0.525],"nice":false,"zero":false},"axis":null},
"y2":{"field":"hi"}}},
{"data":{"name":"D"},"mark":{"type":"line"},"encoding":{
"x":{"field":"t","type":"quantitative","scale":{"domain":[0,600],"nice":false,"zero":false},"axis":{"orient":"bottom","values":[0,100,200,300,400,500,600],"title":"Recation time (sec)","titleFontSize":26,"titleY":53,"titleBaseline":"alphabetic"}},
"y":{"field":"v","type":"quantitative","scale":{"domain":[0.5,0.525],"nice":false,"zero":false},"axis":{"orient":"left","values":[0.5,0.505,0.51,0.515,0.52,0.525],"format":".3f","title":"A₃₄₅","titleFontSize":30,"titleX":-71,"titleY":139,"titleAlign":"center","titleBaseline":"alphabetic"}}}},
{"data":{"name":"D"},"mark":{"type":"point"},"encoding":{
"x":{"field":"t","type":"quantitative","scale":{"domain":[0,600],"nice":false,"zero":false},"axis":{"orient":"bottom","values":[50,150,250,350,450,550],"labels":false,"domain":false,"tickSize":-4,"title":"FA-Lys-Ala-OH","titleFontSize":38,"titleX":173,"titleY":-277,"titleAlign":"center","titleBaseline":"alphabetic"}},
"y":{"field":"v","type":"quantitative","scale":{"domain":[0.5,0.525],"nice":false,"zero":false},"axis":{"orient":"left","values":[0.5025,0.5075,0.5125,0.5175,0.5225],"labels":false,"domain":false,"tickSize":3,"title":"D","titleFontSize":34,"titleAngle":0,"titleX":-92,"titleY":-16,"titleAlign":"left","titleBaseline":"alphabetic"}}}}
]},
{"width":343,"height":278,"resolve":{"axis":{"x":"independent","y":"independent"}},"layer":[
{"data":{"name":"Eb"},"mark":{"type":"area"},"encoding":{
"x":{"field":"t","type":"quantitative","scale":{"domain":[0,600],"nice":false,"zero":false},"axis":null},
"y":{"field":"lo","type":"quantitative","scale":{"domain":[0.376,0.394],"nice":false,"zero":false},"axis":null},
"y2":{"field":"hi"}}},
{"data":{"name":"E"},"mark":{"type":"line"},"encoding":{
"x":{"field":"t","type":"quantitative","scale":{"domain":[0,600],"nice":false,"zero":false},"axis":{"orient":"bottom","values":[0,100,200,300,400,500,600],"title":"Recation time (sec)","titleFontSize":26,"titleY":53,"titleBaseline":"alphabetic"}},
"y":{"field":"v","type":"quantitative","scale":{"domain":[0.376,0.394],"nice":false,"zero":false},"axis":{"orient":"left","values":[0.376,0.378,0.38,0.382,0.384,0.386,0.388,0.39,0.392,0.394],"format":".3f","title":"A₃₄₅","titleFontSize":30,"titleX":-68,"titleY":139,"titleAlign":"center","titleBaseline":"alphabetic"}}}},
{"data":{"name":"E"},"mark":{"type":"point"},"encoding":{
"x":{"field":"t","type":"quantitative","scale":{"domain":[0,600],"nice":false,"zero":false},"axis":{"orient":"bottom","values":[50,150,250,350,450,550],"labels":false,"domain":false,"tickSize":-4,"title":"FA-Ala-Arg-OH","titleFontSize":38,"titleX":191,"titleY":-278,"titleAlign":"center","titleBaseline":"alphabetic"}},
"y":{"field":"v","type":"quantitative","scale":{"domain":[0.376,0.394],"nice":false,"zero":false},"axis":{"orient":"left","values":[0.377,0.379,0.381,0.383,0.385,0.387,0.389,0.391,0.393],"labels":false,"domain":false,"tickSize":3,"title":"E","titleFontSize":34,"titleAngle":0,"titleX":-89,"titleY":-16,"titleAlign":"left","titleBaseline":"alphabetic"}}}}
]},
{"width":343,"height":278,"resolve":{"axis":{"x":"independent","y":"independent"}},"layer":[
{"data":{"name":"Fb"},"mark":{"type":"area"},"encoding":{
"x":{"field":"t","type":"quantitative","scale":{"domain":[0,600],"nice":false,"zero":false},"axis":null},
"y":{"field":"lo","type":"quantitative","scale":{"domain":[0.265,0.275],"nice":false,"zero":false},"axis":null},
"y2":{"field":"hi"}}},
{"data":{"name":"F"},"mark":{"type":"line"},"encoding":{
"x":{"field":"t","type":"quantitative","scale":{"domain":[0,600],"nice":false,"zero":false},"axis":{"orient":"bottom","values":[0,100,200,300,400,500,600],"title":"Recation time (sec)","titleFontSize":26,"titleY":53,"titleBaseline":"alphabetic"}},
"y":{"field":"v","type":"quantitative","scale":{"domain":[0.265,0.275],"nice":false,"zero":false},"axis":{"orient":"left","values":[0.266,0.268,0.27,0.272,0.274],"format":".3f","title":"A₃₄₅","titleFontSize":30,"titleX":-67,"titleY":139,"titleAlign":"center","titleBaseline":"alphabetic"}}}},
{"data":{"name":"F"},"mark":{"type":"point"},"encoding":{
"x":{"field":"t","type":"quantitative","scale":{"domain":[0,600],"nice":false,"zero":false},"axis":{"orient":"bottom","values":[50,150,250,350,450,550],"labels":false,"domain":false,"tickSize":-4,"title":"FA-Glu-Glu-OH","titleFontSize":38,"titleX":184,"titleY":-278,"titleAlign":"center","titleBaseline":"alphabetic"}},
"y":{"field":"v","type":"quantitative","scale":{"domain":[0.265,0.275],"nice":false,"zero":false},"axis":{"orient":"left","values":[0.265,0.267,0.269,0.271,0.273,0.275],"labels":false,"domain":false,"tickSize":3,"title":"F","titleFontSize":34,"titleAngle":0,"titleX":-84,"titleY":-16,"titleAlign":"left","titleBaseline":"alphabetic"}}}}
]}
]
}
